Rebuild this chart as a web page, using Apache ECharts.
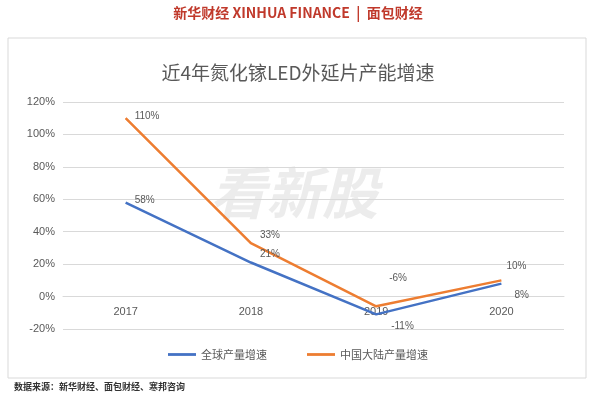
<!DOCTYPE html>
<html><head><meta charset="utf-8">
<script src="https://cdn.jsdelivr.net/npm/echarts@6/dist/echarts.min.js"></script>
<style>body{margin:0;background:#fff}#c{width:596px;height:407px}</style>
</head><body><div id="c"></div>
<script>
const categories=['2017','2018','2019','2020'];
const globalGrowth=[58,21,-11,8];
const chinaGrowth=[110,33,-6,10];
const yTicks=[-20,0,20,40,60,80,100,120];
const globalLabelOffsets=[[4,-2],[4,-8],[10,12],[8,12]];
const chinaLabelOffsets=[[4,-2],[4,-8],[8,-28],[0,-14]];
const chart=echarts.init(document.getElementById('c'));
function mk(vals,offs){return vals.map((v,i)=>({value:v,label:{offset:offs[i]}}));}
chart.setOption({
 animation:false,
 graphic:[
  {type:'rect',shape:{x:8,y:38,width:578,height:340},style:{fill:'none',stroke:'#d9d9d9',lineWidth:1}},
  {type:'text',left:'center',top:6,style:{text:'新华财经 XINHUA FINANCE  |  面包财经',fill:'#c0392b',font:'bold 14px "Noto Sans CJK SC"'}},
  {type:'text',left:210,top:165,style:{text:'看新股',fill:'rgba(200,200,200,0.35)',font:'italic bold 56px "Noto Sans CJK SC"'}},
  {type:'text',left:14,top:382,style:{text:'数据来源：新华财经、面包财经、寒邦咨询',fill:'#333',font:'bold 9px "Noto Sans CJK SC"'}}
 ],
 title:{text:'近4年氮化镓LED外延片产能增速',left:'center',top:58,textStyle:{fontSize:19,fontWeight:'normal',color:'#595959',fontFamily:'Noto Sans CJK SC'}},
 legend:{bottom:42,itemGap:40,icon:'path://M0,0H30V3H0Z',itemWidth:28,itemHeight:3,textStyle:{color:'#595959',fontSize:11,fontFamily:'Noto Sans CJK SC'},data:['全球产量增速','中国大陆产量增速']},
 grid:{left:63,right:32,top:102,bottom:78},
 xAxis:{type:'category',data:categories,boundaryGap:true,axisLine:{onZero:true,lineStyle:{color:'#d9d9d9'}},axisTick:{show:false},axisLabel:{color:'#595959',fontSize:11,margin:-23}},
 yAxis:{type:'value',min:-20,max:120,interval:20,axisLine:{show:false},axisTick:{show:false},splitLine:{lineStyle:{color:'#d9d9d9'}},axisLabel:{color:'#595959',fontSize:11,formatter:v=>v+'%'}},
 series:[
  {name:'全球产量增速',type:'line',data:mk(globalGrowth,globalLabelOffsets),symbol:'circle',symbolSize:0.1,lineStyle:{color:'#4472c4',width:2.5},itemStyle:{color:'#4472c4'},
   label:{show:true,formatter:p=>p.value+'%',color:'#595959',fontSize:10,position:'right'}},
  {name:'中国大陆产量增速',type:'line',data:mk(chinaGrowth,chinaLabelOffsets),symbol:'circle',symbolSize:0.1,lineStyle:{color:'#ed7d31',width:2.5},itemStyle:{color:'#ed7d31'},
   label:{show:true,formatter:p=>p.value+'%',color:'#595959',fontSize:10,position:'right'}}
 ]
});
</script></body></html>
